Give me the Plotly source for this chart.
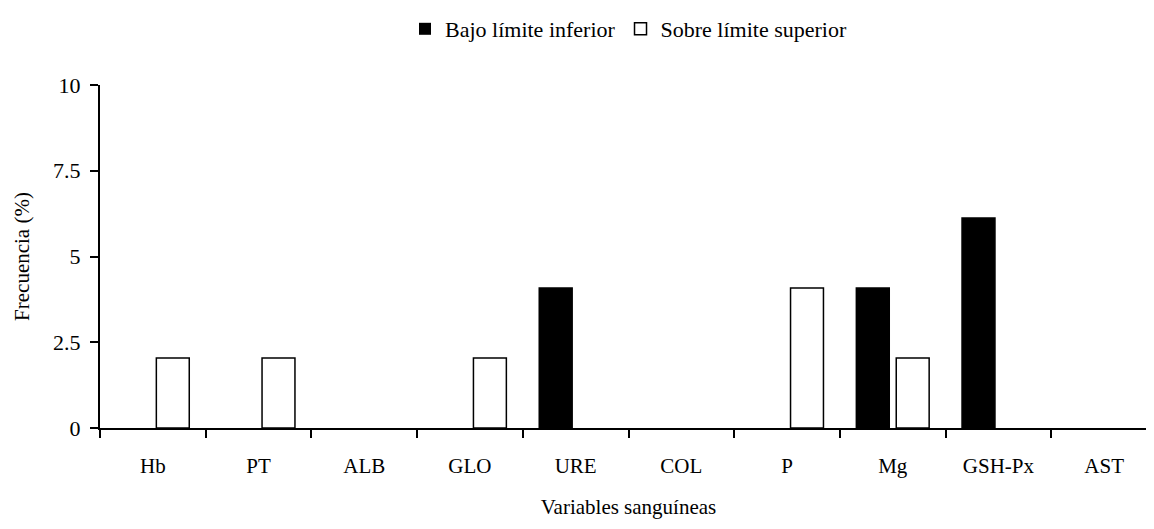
import plotly.graph_objects as go

categories = ["Hb", "PT", "ALB", "GLO", "URE", "COL", "P", "Mg", "GSH-Px", "AST"]
bajo_limite_inferior = [0, 0, 0, 0, 4.08, 0, 0, 4.08, 6.12, 0]
sobre_limite_superior = [2.04, 2.04, 0, 2.04, 0, 0, 4.08, 2.04, 0, 0]
y_tick_values = [0, 2.5, 5, 7.5, 10]
y_tick_labels = ["0", "2.5", "5", "7.5", "10"]

font_family = "Liberation Serif, Times New Roman, serif"


def outline_widths(values, w=1.5):
    return [w if v > 0 else 0 for v in values]


fig = go.Figure()
fig.add_trace(go.Bar(
    x=categories, y=bajo_limite_inferior, name="Bajo límite inferior",
    marker=dict(color="black", line=dict(color="black", width=outline_widths(bajo_limite_inferior))),
))
fig.add_trace(go.Bar(
    x=categories, y=sobre_limite_superior, name="Sobre límite superior",
    marker=dict(color="white", line=dict(color="black", width=outline_widths(sobre_limite_superior))),
))

# page body has an 8px margin, so margins are reduced by 8px
fig.update_layout(
    width=1154, height=529,
    margin=dict(l=92, r=5, t=77, b=109),
    paper_bgcolor="white", plot_bgcolor="white",
    font=dict(family=font_family, size=21, color="black"),
    barmode="group", bargap=0.245, bargroupgap=0.175,
    legend=dict(
        orientation="h", x=0.5, xanchor="center",
        yref="container", y=1.0, yanchor="top",
        font=dict(size=22), itemwidth=30, tracegroupgap=0,
        traceorder="normal",
    ),
    showlegend=True,
)
fig.update_xaxes(
    type="category", range=[-0.5, 9.5], automargin=False,
    showline=True, linecolor="black", linewidth=2, layer="above traces",
    ticks="outside", tickson="boundaries", ticklen=8, tickwidth=2, tickcolor="black",
    showgrid=False, zeroline=False,
    tickfont=dict(size=21), ticklabelstandoff=18,
    title=dict(text="Variables sanguíneas", font=dict(size=21), standoff=22),
)
fig.update_yaxes(
    range=[0, 10], tickvals=y_tick_values, ticktext=y_tick_labels, automargin=False,
    showline=True, linecolor="black", linewidth=2, layer="above traces",
    ticks="outside", ticklen=8, tickwidth=2, tickcolor="black",
    showgrid=False, zeroline=False,
    tickfont=dict(size=22), ticklabelstandoff=5,
    title=dict(text="Frecuencia (%)", font=dict(size=21), standoff=18),
)

fig.write_html("out.html")
